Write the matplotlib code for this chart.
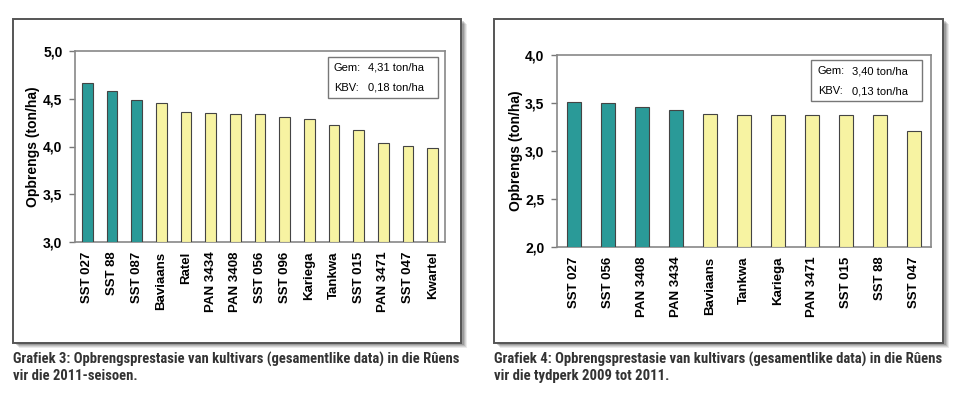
import matplotlib
matplotlib.use("Agg")
import matplotlib.pyplot as plt
from matplotlib.patches import Rectangle
from matplotlib.ticker import FuncFormatter

# ---- data ----
cult_2011 = ["SST 027", "SST 88", "SST 087", "Baviaans", "Ratel", "PAN 3434",
             "PAN 3408", "SST 056", "SST 096", "Kariega", "Tankwa", "SST 015",
             "PAN 3471", "SST 047", "Kwartel"]
yield_2011 = [4.66, 4.58, 4.49, 4.46, 4.36, 4.35, 4.34, 4.34, 4.31, 4.29, 4.23,
              4.17, 4.04, 4.01, 3.98]
teal_count_2011 = 3

cult_0911 = ["SST 027", "SST 056", "PAN 3408", "PAN 3434", "Baviaans", "Tankwa",
             "Kariega", "PAN 3471", "SST 015", "SST 88", "SST 047"]
yield_0911 = [3.51, 3.50, 3.46, 3.43, 3.39, 3.38, 3.37, 3.37, 3.37, 3.37, 3.21]
teal_count_0911 = 4

ylim_2011 = (3.0, 5.0)
ylim_0911 = (2.0, 4.0)
yticks_2011 = [3.0, 3.5, 4.0, 4.5, 5.0]
yticks_0911 = [2.0, 2.5, 3.0, 3.5, 4.0]

stats_2011 = [("Gem:", "4,31 ton/ha"), ("KBV:", "0,18 ton/ha")]
stats_0911 = [("Gem:", "3,40 ton/ha"), ("KBV:", "0,13 ton/ha")]

caption_2011 = ("Grafiek 3: Opbrengsprestasie van kultivars (gesamentlike data) in die Rûens\n"
                "vir die 2011-seisoen.")
caption_0911 = ("Grafiek 4: Opbrengsprestasie van kultivars (gesamentlike data) in die Rûens\n"
                "vir die tydperk 2009 tot 2011.")
ylabel = "Opbrengs (ton/ha)"

TEAL = "#2a9a98"
YELLOW = "#f7f3a2"
FONT = "Liberation Sans"
CAPFONT = ["Roboto Condensed", "DejaVu Sans"]

W, H = 960, 398
fig = plt.figure(figsize=(W / 100, H / 100), dpi=100)
fig.patch.set_facecolor("white")
renderer = fig.canvas.get_renderer()

def fx(px):
    return px / W

def fy(py):
    return 1 - py / H

def panel(box, axrect, cats, vals, nteal, ylim, yticks, stats, statbox,
          statx, staty, caption, capx, ylabx, barw):
    bx0, by0, bx1, by1 = box
    # shadow
    for i, a in enumerate([0.08, 0.10, 0.12, 0.16]):
        off = 5 - i
        fig.patches.append(Rectangle((fx(bx0 + off + 1), fy(by1 + off)),
                                     fx(bx1 - bx0), (by1 - by0) / H,
                                     transform=fig.transFigure, facecolor="black",
                                     edgecolor="none", alpha=a, zorder=0))
    fig.patches.append(Rectangle((fx(bx0), fy(by1)), fx(bx1 - bx0), (by1 - by0) / H,
                                 transform=fig.transFigure, facecolor="white",
                                 edgecolor="#555555", linewidth=1.4, zorder=1))
    ax0, ay0, ax1, ay1 = axrect
    ax = fig.add_axes([fx(ax0), fy(ay1), fx(ax1 - ax0), (ay1 - ay0) / H])
    ax.set_zorder(2)
    colors = [TEAL if i < nteal else YELLOW for i in range(len(cats))]
    x = range(len(cats))
    ax.bar(x, [v - ylim[0] for v in vals], bottom=ylim[0], width=barw,
           color=colors, edgecolor="#444444", linewidth=0.8, zorder=3)
    ax.set_xlim(-0.5, len(cats) - 0.5)
    ax.set_ylim(*ylim)
    ax.set_yticks(yticks)
    ax.yaxis.set_major_formatter(FuncFormatter(lambda v, p: f"{v:.1f}".replace(".", ",")))
    ax.set_xticks(list(x))
    ax.set_xticklabels(cats, rotation=90, fontsize=9.5, fontweight="bold", family=FONT)
    for lab in ax.get_yticklabels():
        lab.set_fontsize(10)
        lab.set_fontweight("bold")
        lab.set_family(FONT)
    ax.tick_params(axis="x", length=0, pad=7)
    ax.tick_params(axis="y", length=4, width=1, color="#777777", pad=5)
    for s in ax.spines.values():
        s.set_color("#888888")
        s.set_linewidth(1.2)
    fig.text(fx(ylabx), fy((ay0 + ay1) / 2), ylabel, rotation=90, ha="center",
             va="center", fontsize=10, fontweight="bold", family=FONT)
    # stats box
    sx0, sy0, sx1, sy1 = statbox
    fig.patches.append(Rectangle((fx(sx0), fy(sy1)), fx(sx1 - sx0), (sy1 - sy0) / H,
                                 transform=fig.transFigure, facecolor="white",
                                 edgecolor="#777777", linewidth=1.0, zorder=5))
    for (lab, val), yy in zip(stats, staty):
        fig.text(fx(statx[0]), fy(yy), lab, ha="left", va="center", fontsize=8,
                 family=FONT, zorder=6)
        fig.text(fx(statx[1]), fy(yy), val, ha="left", va="center", fontsize=8,
                 family=FONT, zorder=6)
    t = fig.text(fx(capx), fy(352), caption, ha="left", va="top", fontsize=10,
                 fontweight="bold", color="#333333", linespacing=1.15,
                 family=CAPFONT)
    # fit caption width to the panel width
    w = t.get_window_extent(renderer=renderer).width
    t.set_fontsize(10 * (bx1 - bx0) / w)

panel((13, 19, 461, 343), (75, 51, 445, 242), cult_2011, yield_2011, teal_count_2011,
      ylim_2011, yticks_2011, stats_2011, (328, 57, 438, 98), (334, 368), (68, 88),
      caption_2011, 13, 33, 0.43)
panel((494, 19, 943, 343), (557, 55, 931, 247), cult_0911, yield_0911, teal_count_0911,
      ylim_0911, yticks_0911, stats_0911, (811, 60, 922, 101), (818, 852), (71, 91),
      caption_0911, 494, 516, 0.4)

fig.savefig("out.png", dpi=100, facecolor="white")
